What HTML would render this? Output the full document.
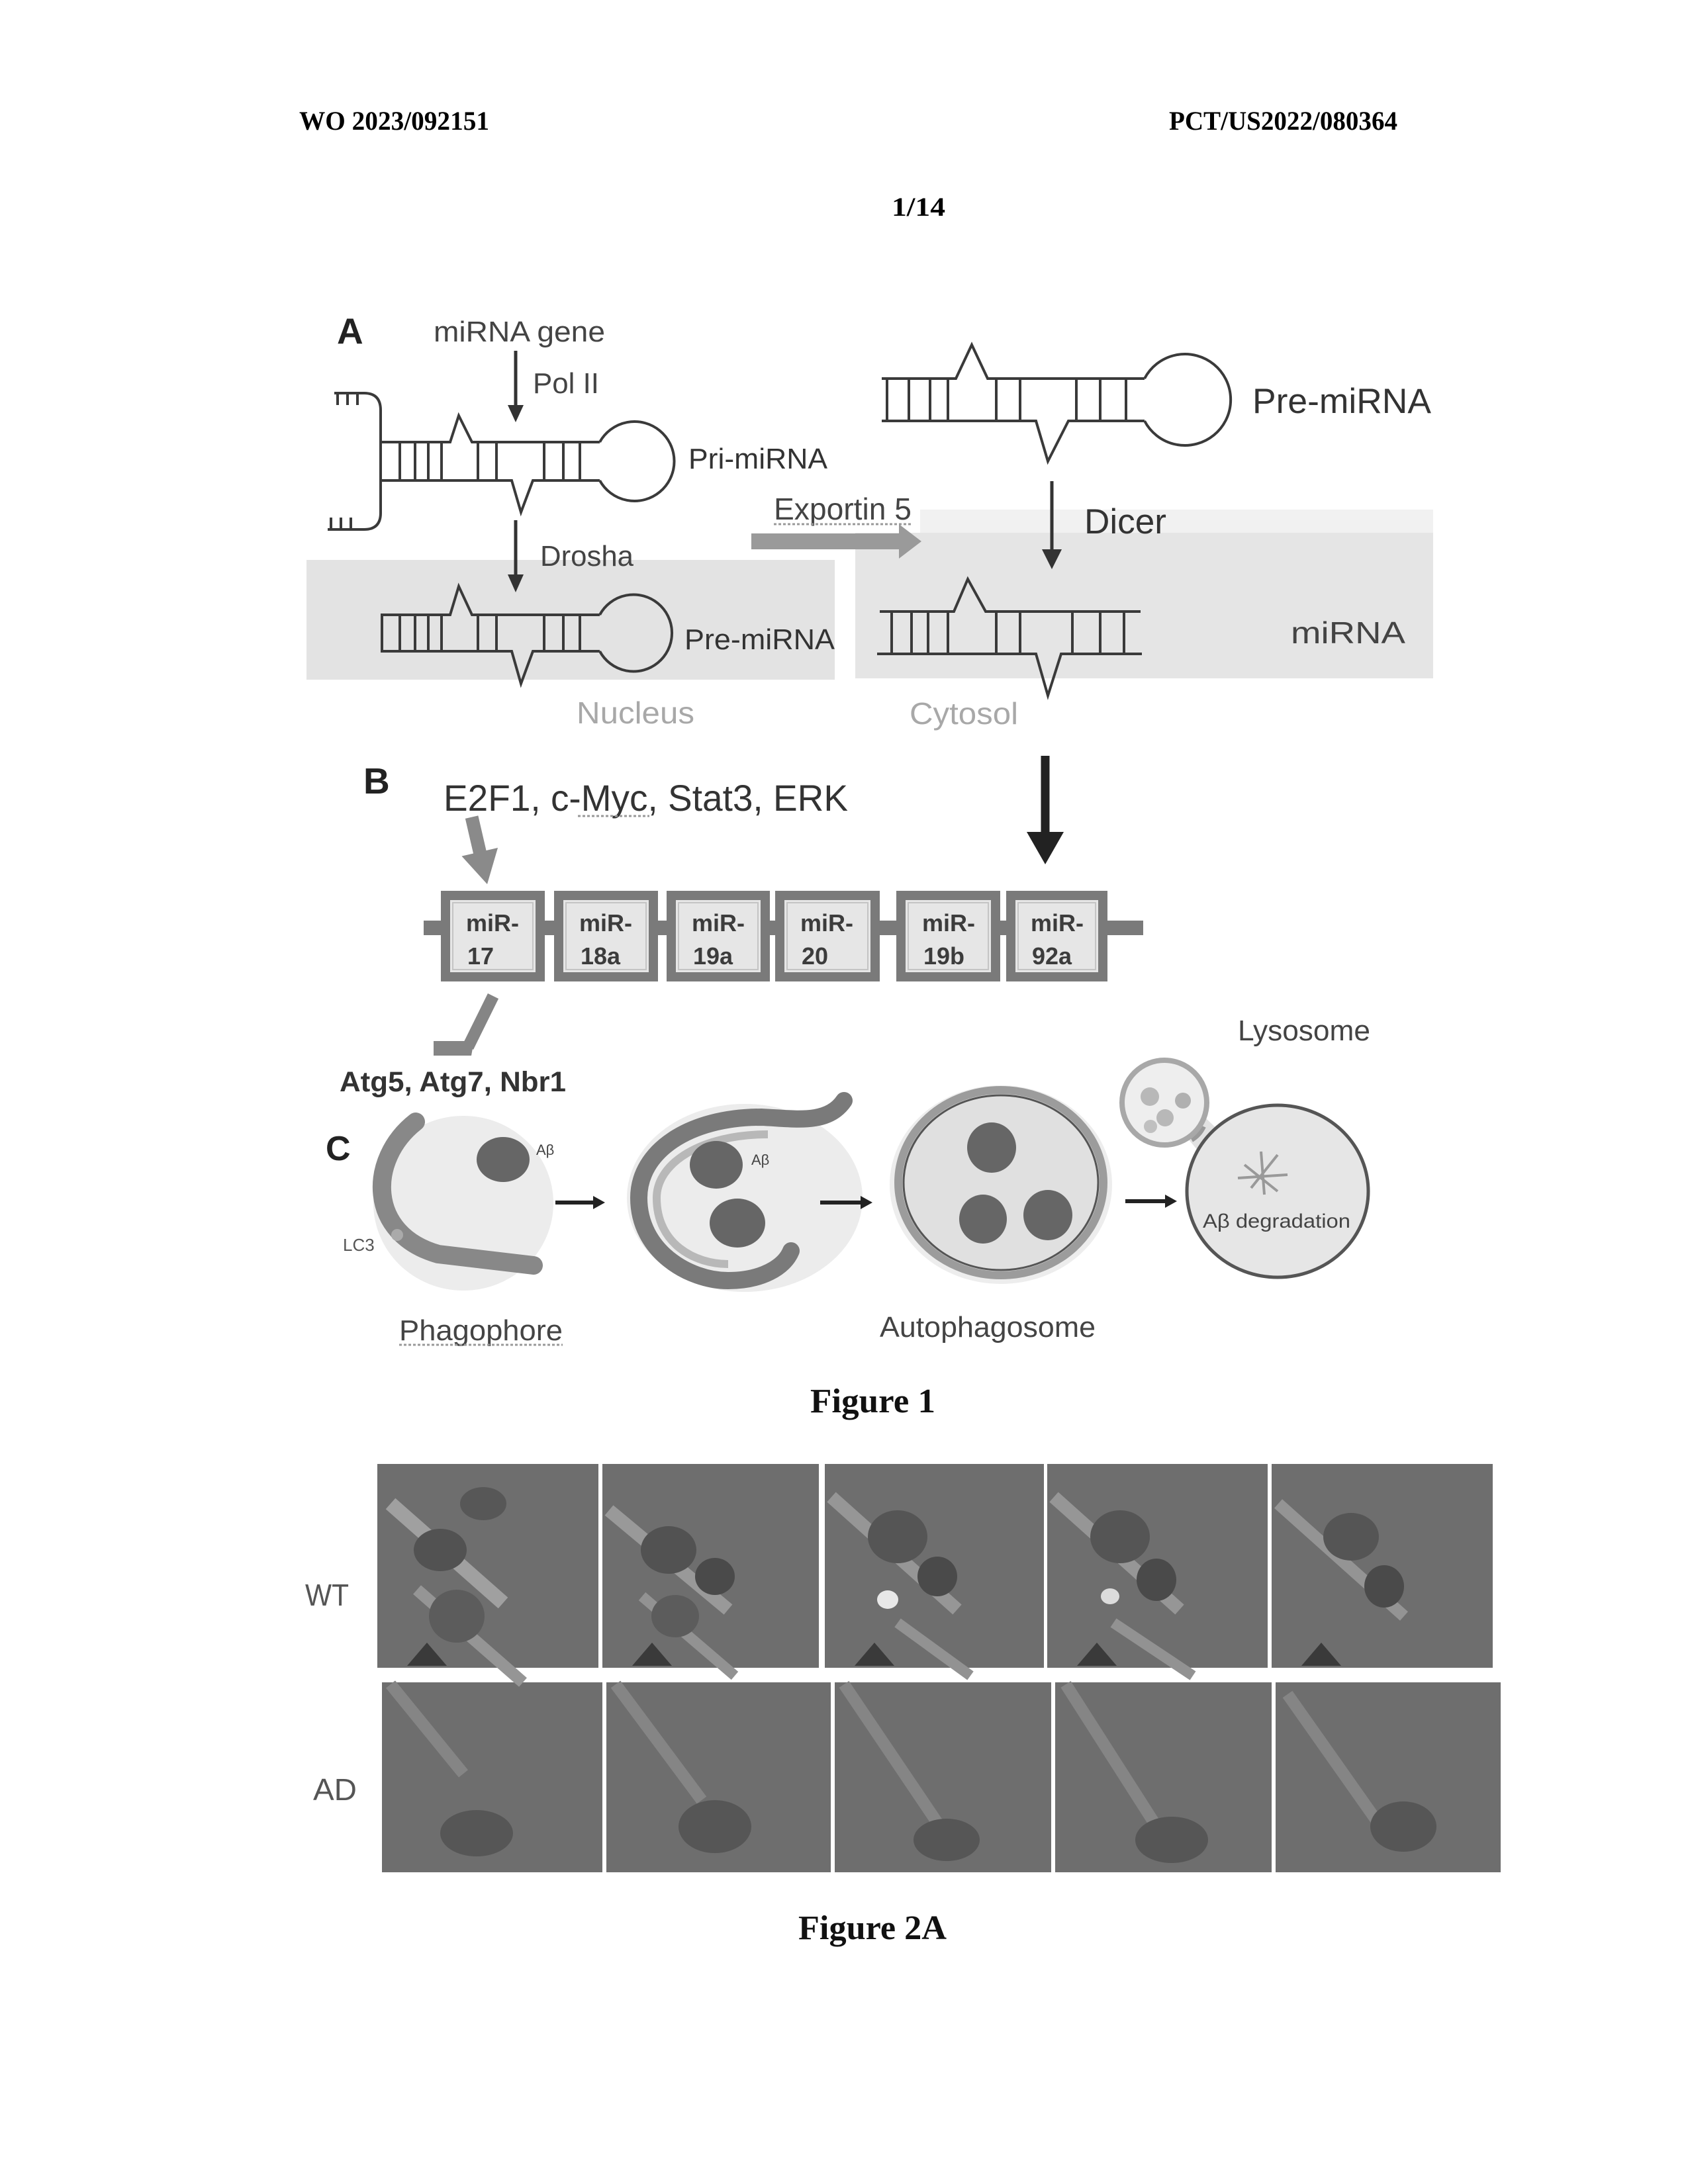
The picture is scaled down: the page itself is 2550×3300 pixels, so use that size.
<!DOCTYPE html>
<html>
<head>
<meta charset="utf-8">
<style>
html,body{margin:0;padding:0;background:#fff;}
svg{display:block;}
text{font-family:"Liberation Sans",sans-serif;}
.serif{font-family:"Liberation Serif",serif;font-weight:bold;}
</style>
</head>
<body>
<svg width="2550" height="3300" viewBox="0 0 2550 3300" xmlns="http://www.w3.org/2000/svg">
<rect x="0" y="0" width="2550" height="3300" fill="#fff"/>

<!-- Header -->
<text class="serif" x="452" y="196" font-size="40" textLength="287" lengthAdjust="spacingAndGlyphs" fill="#000">WO 2023/092151</text>
<text class="serif" x="1766" y="196" font-size="40" textLength="345" lengthAdjust="spacingAndGlyphs" fill="#000">PCT/US2022/080364</text>
<text class="serif" x="1347" y="326" font-size="40" textLength="81" lengthAdjust="spacingAndGlyphs" fill="#000">1/14</text>

<!-- ============ Panel A ============ -->
<rect x="463" y="846" width="798" height="181" fill="#e3e3e3"/>
<rect x="1390" y="770" width="775" height="36" fill="#f1f1f1"/>
<rect x="1292" y="805" width="873" height="220" fill="#e5e5e5"/>

<text x="509" y="519" font-size="55" font-weight="bold" fill="#222">A</text>
<text x="655" y="516" font-size="44" textLength="259" lengthAdjust="spacingAndGlyphs" fill="#444">miRNA gene</text>

<line x1="779" y1="530" x2="779" y2="616" stroke="#333" stroke-width="5"/>
<polygon points="767,612 791,612 779,638" fill="#333"/>
<text x="805" y="594" font-size="44" textLength="100" lengthAdjust="spacingAndGlyphs" fill="#444">Pol II</text>

<g fill="none" stroke="#3a3a3a" stroke-width="4">
  <path d="M505 594 L550 594 Q575 594 575 620 L575 775 Q575 800 550 800 L495 800"/>
  <line x1="510" y1="594" x2="510" y2="612"/><line x1="525" y1="594" x2="525" y2="612"/><line x1="540" y1="594" x2="540" y2="612"/>
  <line x1="500" y1="800" x2="500" y2="782"/><line x1="515" y1="800" x2="515" y2="782"/><line x1="530" y1="800" x2="530" y2="782"/>
  <path d="M575 668 L680 668 L693 628 L713 668 L906 668"/>
  <path d="M575 726 L773 726 L787 774 L805 726 L906 726"/>
  <path d="M906 668 A60 60 0 1 1 906 726"/>
  <line x1="604" y1="668" x2="604" y2="726"/><line x1="627" y1="668" x2="627" y2="726"/>
  <line x1="647" y1="668" x2="647" y2="726"/><line x1="667" y1="668" x2="667" y2="726"/>
  <line x1="722" y1="668" x2="722" y2="726"/><line x1="750" y1="668" x2="750" y2="726"/>
  <line x1="822" y1="668" x2="822" y2="726"/><line x1="851" y1="668" x2="851" y2="726"/>
  <line x1="876" y1="668" x2="876" y2="726"/>
</g>
<text x="1040" y="708" font-size="44" textLength="210" lengthAdjust="spacingAndGlyphs" fill="#333">Pri-miRNA</text>

<line x1="779" y1="786" x2="779" y2="872" stroke="#333" stroke-width="5"/>
<polygon points="767,868 791,868 779,895" fill="#333"/>
<text x="816" y="855" font-size="44" textLength="141" lengthAdjust="spacingAndGlyphs" fill="#444">Drosha</text>

<g fill="none" stroke="#3a3a3a" stroke-width="4">
  <path d="M575 929 L680 929 L693 886 L713 929 L906 929"/>
  <path d="M575 984 L773 984 L787 1033 L805 984 L906 984"/>
  <path d="M906 929 A58 58 0 1 1 906 984"/>
  <line x1="577" y1="929" x2="577" y2="984"/>
  <line x1="604" y1="929" x2="604" y2="984"/><line x1="627" y1="929" x2="627" y2="984"/>
  <line x1="647" y1="929" x2="647" y2="984"/><line x1="667" y1="929" x2="667" y2="984"/>
  <line x1="722" y1="929" x2="722" y2="984"/><line x1="750" y1="929" x2="750" y2="984"/>
  <line x1="822" y1="929" x2="822" y2="984"/><line x1="851" y1="929" x2="851" y2="984"/>
  <line x1="876" y1="929" x2="876" y2="984"/>
</g>
<text x="1034" y="981" font-size="44" textLength="227" lengthAdjust="spacingAndGlyphs" fill="#333">Pre-miRNA</text>
<text x="871" y="1093" font-size="46" textLength="178" lengthAdjust="spacingAndGlyphs" fill="#a8a8a8">Nucleus</text>

<text x="1169" y="785" font-size="46" textLength="208" lengthAdjust="spacingAndGlyphs" fill="#444">Exportin 5</text>
<line x1="1169" y1="792" x2="1377" y2="792" stroke="#999" stroke-width="3" stroke-dasharray="4 3"/>
<polygon points="1135,806 1358,806 1358,792 1392,818 1358,844 1358,830 1135,830" fill="#9a9a9a"/>

<g fill="none" stroke="#3a3a3a" stroke-width="4">
  <path d="M1332 572 L1444 572 L1468 521 L1492 572 L1729 572"/>
  <path d="M1332 636 L1565 636 L1583 697 L1614 636 L1729 636"/>
  <path d="M1729 572 A69 69 0 1 1 1729 636"/>
  <line x1="1340" y1="572" x2="1340" y2="636"/><line x1="1373" y1="572" x2="1373" y2="636"/>
  <line x1="1405" y1="572" x2="1405" y2="636"/><line x1="1432" y1="572" x2="1432" y2="636"/>
  <line x1="1505" y1="572" x2="1505" y2="636"/><line x1="1541" y1="572" x2="1541" y2="636"/>
  <line x1="1626" y1="572" x2="1626" y2="636"/><line x1="1662" y1="572" x2="1662" y2="636"/>
  <line x1="1701" y1="572" x2="1701" y2="636"/>
</g>
<text x="1892" y="624" font-size="53" textLength="270" lengthAdjust="spacingAndGlyphs" fill="#333">Pre-miRNA</text>

<line x1="1589" y1="727" x2="1589" y2="835" stroke="#333" stroke-width="5"/>
<polygon points="1574,830 1604,830 1589,860" fill="#333"/>
<text x="1638" y="806" font-size="53" textLength="124" lengthAdjust="spacingAndGlyphs" fill="#333">Dicer</text>

<g fill="none" stroke="#3a3a3a" stroke-width="4">
  <path d="M1329 924 L1441 924 L1462 875 L1489 924 L1723 924"/>
  <path d="M1325 988 L1565 988 L1583 1051 L1603 988 L1725 988"/>
  <line x1="1347" y1="924" x2="1347" y2="988"/><line x1="1377" y1="924" x2="1377" y2="988"/>
  <line x1="1402" y1="924" x2="1402" y2="988"/><line x1="1432" y1="924" x2="1432" y2="988"/>
  <line x1="1505" y1="924" x2="1505" y2="988"/><line x1="1541" y1="924" x2="1541" y2="988"/>
  <line x1="1620" y1="924" x2="1620" y2="988"/><line x1="1662" y1="924" x2="1662" y2="988"/>
  <line x1="1698" y1="924" x2="1698" y2="988"/>
</g>
<text x="1950" y="972" font-size="46" textLength="173" lengthAdjust="spacingAndGlyphs" fill="#444">miRNA</text>
<text x="1374" y="1094" font-size="46" textLength="164" lengthAdjust="spacingAndGlyphs" fill="#a8a8a8">Cytosol</text>

<line x1="1579" y1="1142" x2="1579" y2="1262" stroke="#222" stroke-width="13"/>
<polygon points="1551,1257 1607,1257 1579,1306" fill="#222"/>

<!-- ============ Panel B ============ -->
<text x="549" y="1199" font-size="55" font-weight="bold" fill="#222">B</text>
<text x="670" y="1225" font-size="56" textLength="611" lengthAdjust="spacingAndGlyphs" fill="#333">E2F1, c-Myc, Stat3, ERK</text>
<line x1="873" y1="1233" x2="981" y2="1233" stroke="#999" stroke-width="3" stroke-dasharray="4 3"/>

<g transform="translate(736,1336) rotate(-13)">
  <rect x="-10" y="-104" width="20" height="58" fill="#8a8a8a"/>
  <polygon points="-28,-50 28,-50 0,0" fill="#8a8a8a"/>
</g>

<rect x="640" y="1391" width="1087" height="22" fill="#7a7a7a"/>
<g stroke="#7a7a7a" stroke-width="14" fill="#e6e6e6">
  <rect x="673" y="1353" width="143" height="123"/>
  <rect x="844" y="1353" width="143" height="123"/>
  <rect x="1014" y="1353" width="142" height="123"/>
  <rect x="1178" y="1353" width="144" height="123"/>
  <rect x="1361" y="1353" width="143" height="123"/>
  <rect x="1527" y="1353" width="139" height="123"/>
</g>
<g fill="none" stroke="#c4c4c4" stroke-width="2">
  <rect x="684" y="1364" width="121" height="101"/>
  <rect x="855" y="1364" width="121" height="101"/>
  <rect x="1025" y="1364" width="120" height="101"/>
  <rect x="1189" y="1364" width="122" height="101"/>
  <rect x="1372" y="1364" width="121" height="101"/>
  <rect x="1538" y="1364" width="117" height="101"/>
</g>
<g font-size="36" font-weight="bold" fill="#3c3c3c">
  <text x="704" y="1407">miR-</text><text x="706" y="1457">17</text>
  <text x="875" y="1407">miR-</text><text x="877" y="1457">18a</text>
  <text x="1045" y="1407">miR-</text><text x="1047" y="1457">19a</text>
  <text x="1209" y="1407">miR-</text><text x="1211" y="1457">20</text>
  <text x="1393" y="1407">miR-</text><text x="1395" y="1457">19b</text>
  <text x="1557" y="1407">miR-</text><text x="1559" y="1457">92a</text>
</g>

<line x1="745" y1="1505" x2="707" y2="1582" stroke="#858585" stroke-width="18"/>
<polygon points="655,1573 716,1573 712,1595 655,1595" fill="#858585"/>

<text x="513" y="1649" font-size="43" font-weight="bold" textLength="342" lengthAdjust="spacingAndGlyphs" fill="#333">Atg5, Atg7, Nbr1</text>

<!-- ============ Panel C ============ -->
<text x="492" y="1753" font-size="52" font-weight="bold" fill="#222">C</text>

<ellipse cx="700" cy="1818" rx="136" ry="132" fill="#ececec"/>
<path d="M628 1695 C555 1752 555 1865 662 1895 L806 1912" fill="none" stroke="#888" stroke-width="28" stroke-linecap="round"/>
<circle cx="600" cy="1866" r="9" fill="#aaa"/>
<ellipse cx="760" cy="1752" rx="40" ry="34" fill="#666"/>
<text x="810" y="1745" font-size="22" fill="#444">Aβ</text>
<text x="518" y="1890" font-size="26" fill="#555">LC3</text>

<line x1="839" y1="1817" x2="900" y2="1817" stroke="#222" stroke-width="6"/>
<polygon points="896,1807 914,1817 896,1827" fill="#222"/>

<ellipse cx="1125" cy="1810" rx="178" ry="142" fill="#ececec"/>
<path d="M1275 1663 C1250 1700 1200 1690 1150 1688 C1040 1688 965 1740 965 1810 C965 1890 1040 1935 1100 1935 C1150 1935 1185 1915 1195 1890" fill="none" stroke="#7a7a7a" stroke-width="26" stroke-linecap="round"/>
<path d="M1160 1714 C1060 1714 992 1757 992 1810 C992 1880 1050 1910 1100 1910" fill="none" stroke="#b8b8b8" stroke-width="12"/>
<ellipse cx="1082" cy="1760" rx="40" ry="36" fill="#666"/>
<ellipse cx="1114" cy="1848" rx="42" ry="37" fill="#666"/>
<text x="1135" y="1760" font-size="22" fill="#444">Aβ</text>

<line x1="1239" y1="1817" x2="1304" y2="1817" stroke="#222" stroke-width="6"/>
<polygon points="1300,1807 1318,1817 1300,1827" fill="#222"/>

<ellipse cx="1512" cy="1790" rx="168" ry="150" fill="#ededed"/>
<ellipse cx="1512" cy="1787" rx="155" ry="140" fill="#e0e0e0" stroke="#9c9c9c" stroke-width="12"/>
<ellipse cx="1512" cy="1787" rx="147" ry="132" fill="none" stroke="#555" stroke-width="3"/>
<ellipse cx="1498" cy="1734" rx="37" ry="38" fill="#666"/>
<ellipse cx="1485" cy="1842" rx="36" ry="37" fill="#666"/>
<ellipse cx="1583" cy="1836" rx="37" ry="38" fill="#666"/>

<line x1="1700" y1="1815" x2="1764" y2="1815" stroke="#222" stroke-width="6"/>
<polygon points="1760,1805 1778,1815 1760,1825" fill="#222"/>

<!-- lysosome fusion -->
<path d="M1790 1715 L1822 1690 L1845 1712 L1815 1745 Z" fill="#e2e2e2"/>
<ellipse cx="1930" cy="1800" rx="137" ry="130" fill="#e6e6e6" stroke="#555" stroke-width="5"/>
<path d="M1800 1722 Q1812 1715 1818 1702" fill="none" stroke="#999" stroke-width="8"/>
<circle cx="1759" cy="1666" r="64" fill="#eeeeee" stroke="#a8a8a8" stroke-width="8"/>
<circle cx="1737" cy="1657" r="14" fill="#b8b8b8"/>
<circle cx="1787" cy="1663" r="12" fill="#b0b0b0"/>
<circle cx="1760" cy="1689" r="13" fill="#b8b8b8"/>
<circle cx="1738" cy="1702" r="10" fill="#c0c0c0"/>
<g stroke="#999" stroke-width="4">
  <line x1="1880" y1="1760" x2="1930" y2="1800"/>
  <line x1="1930" y1="1745" x2="1890" y2="1795"/>
  <line x1="1905" y1="1740" x2="1910" y2="1805"/>
  <line x1="1870" y1="1780" x2="1945" y2="1775"/>
</g>
<text x="1817" y="1855" font-size="30" textLength="223" lengthAdjust="spacingAndGlyphs" fill="#444">Aβ degradation</text>
<text x="1870" y="1572" font-size="44" textLength="200" lengthAdjust="spacingAndGlyphs" fill="#444">Lysosome</text>

<text x="603" y="2025" font-size="44" textLength="247" lengthAdjust="spacingAndGlyphs" fill="#444">Phagophore</text>
<line x1="603" y1="2032" x2="850" y2="2032" stroke="#999" stroke-width="3" stroke-dasharray="4 3"/>
<text x="1329" y="2020" font-size="44" textLength="326" lengthAdjust="spacingAndGlyphs" fill="#444">Autophagosome</text>

<text class="serif" x="1224" y="2134" font-size="52" textLength="189" lengthAdjust="spacingAndGlyphs" fill="#111">Figure 1</text>

<!-- ============ Figure 2A ============ -->
<text x="461" y="2426" font-size="46" textLength="66" lengthAdjust="spacingAndGlyphs" fill="#555">WT</text>
<text x="473" y="2720" font-size="46" textLength="66" lengthAdjust="spacingAndGlyphs" fill="#555">AD</text>

<g fill="#6e6e6e">
  <rect x="570" y="2212" width="334" height="308"/>
  <rect x="910" y="2212" width="327" height="308"/>
  <rect x="1246" y="2212" width="331" height="308"/>
  <rect x="1582" y="2212" width="333" height="308"/>
  <rect x="1921" y="2212" width="334" height="308"/>
  <rect x="577" y="2542" width="333" height="287"/>
  <rect x="916" y="2542" width="339" height="287"/>
  <rect x="1261" y="2542" width="327" height="287"/>
  <rect x="1594" y="2542" width="327" height="287"/>
  <rect x="1927" y="2542" width="340" height="287"/>
</g>

<g>
  <g transform="translate(570,2212)">
    <path d="M20 60 L190 210" stroke="#a0a0a0" stroke-width="22" fill="none"/>
    <path d="M60 190 L220 330" stroke="#959595" stroke-width="18" fill="none"/>
    <ellipse cx="95" cy="130" rx="40" ry="32" fill="#525252"/>
    <ellipse cx="120" cy="230" rx="42" ry="40" fill="#5c5c5c"/>
    <ellipse cx="160" cy="60" rx="35" ry="25" fill="#575757"/>
    <polygon points="45,305 75,270 105,305" fill="#3a3a3a"/>
  </g>
  <g transform="translate(910,2212)">
    <path d="M10 70 L190 220" stroke="#999" stroke-width="20" fill="none"/>
    <path d="M60 200 L200 320" stroke="#929292" stroke-width="16" fill="none"/>
    <ellipse cx="100" cy="130" rx="42" ry="36" fill="#525252"/>
    <ellipse cx="170" cy="170" rx="30" ry="28" fill="#4a4a4a"/>
    <ellipse cx="110" cy="230" rx="36" ry="32" fill="#5c5c5c"/>
    <polygon points="45,305 75,270 105,305" fill="#3a3a3a"/>
  </g>
  <g transform="translate(1246,2212)">
    <path d="M10 50 L200 220" stroke="#969696" stroke-width="20" fill="none"/>
    <path d="M110 240 L220 320" stroke="#929292" stroke-width="16" fill="none"/>
    <ellipse cx="110" cy="110" rx="45" ry="40" fill="#555"/>
    <ellipse cx="170" cy="170" rx="30" ry="30" fill="#4a4a4a"/>
    <ellipse cx="95" cy="205" rx="16" ry="14" fill="#e8e8e8"/>
    <polygon points="45,305 75,270 105,305" fill="#3a3a3a"/>
  </g>
  <g transform="translate(1582,2212)">
    <path d="M10 50 L200 220" stroke="#969696" stroke-width="20" fill="none"/>
    <path d="M100 240 L220 320" stroke="#929292" stroke-width="16" fill="none"/>
    <ellipse cx="110" cy="110" rx="45" ry="40" fill="#555"/>
    <ellipse cx="165" cy="175" rx="30" ry="32" fill="#4a4a4a"/>
    <ellipse cx="95" cy="200" rx="14" ry="12" fill="#dcdcdc"/>
    <polygon points="45,305 75,270 105,305" fill="#3a3a3a"/>
  </g>
  <g transform="translate(1921,2212)">
    <path d="M10 60 L200 230" stroke="#949494" stroke-width="18" fill="none"/>
    <ellipse cx="120" cy="110" rx="42" ry="36" fill="#555"/>
    <ellipse cx="170" cy="185" rx="30" ry="32" fill="#4a4a4a"/>
    <polygon points="45,305 75,270 105,305" fill="#3a3a3a"/>
  </g>
</g>
<g stroke="#858585" stroke-width="18" fill="none">
  <path d="M590 2545 L700 2680"/>
  <path d="M930 2545 L1060 2720"/>
  <path d="M1275 2545 L1420 2760"/>
  <path d="M1610 2545 L1760 2780"/>
  <path d="M1945 2560 L2100 2780"/>
</g>
<g fill="#565656">
  <ellipse cx="720" cy="2770" rx="55" ry="35"/>
  <ellipse cx="1080" cy="2760" rx="55" ry="40"/>
  <ellipse cx="1430" cy="2780" rx="50" ry="32"/>
  <ellipse cx="1770" cy="2780" rx="55" ry="35"/>
  <ellipse cx="2120" cy="2760" rx="50" ry="38"/>
</g>

<text class="serif" x="1206" y="2930" font-size="52" textLength="224" lengthAdjust="spacingAndGlyphs" fill="#111">Figure 2A</text>
</svg>
</body>
</html>
